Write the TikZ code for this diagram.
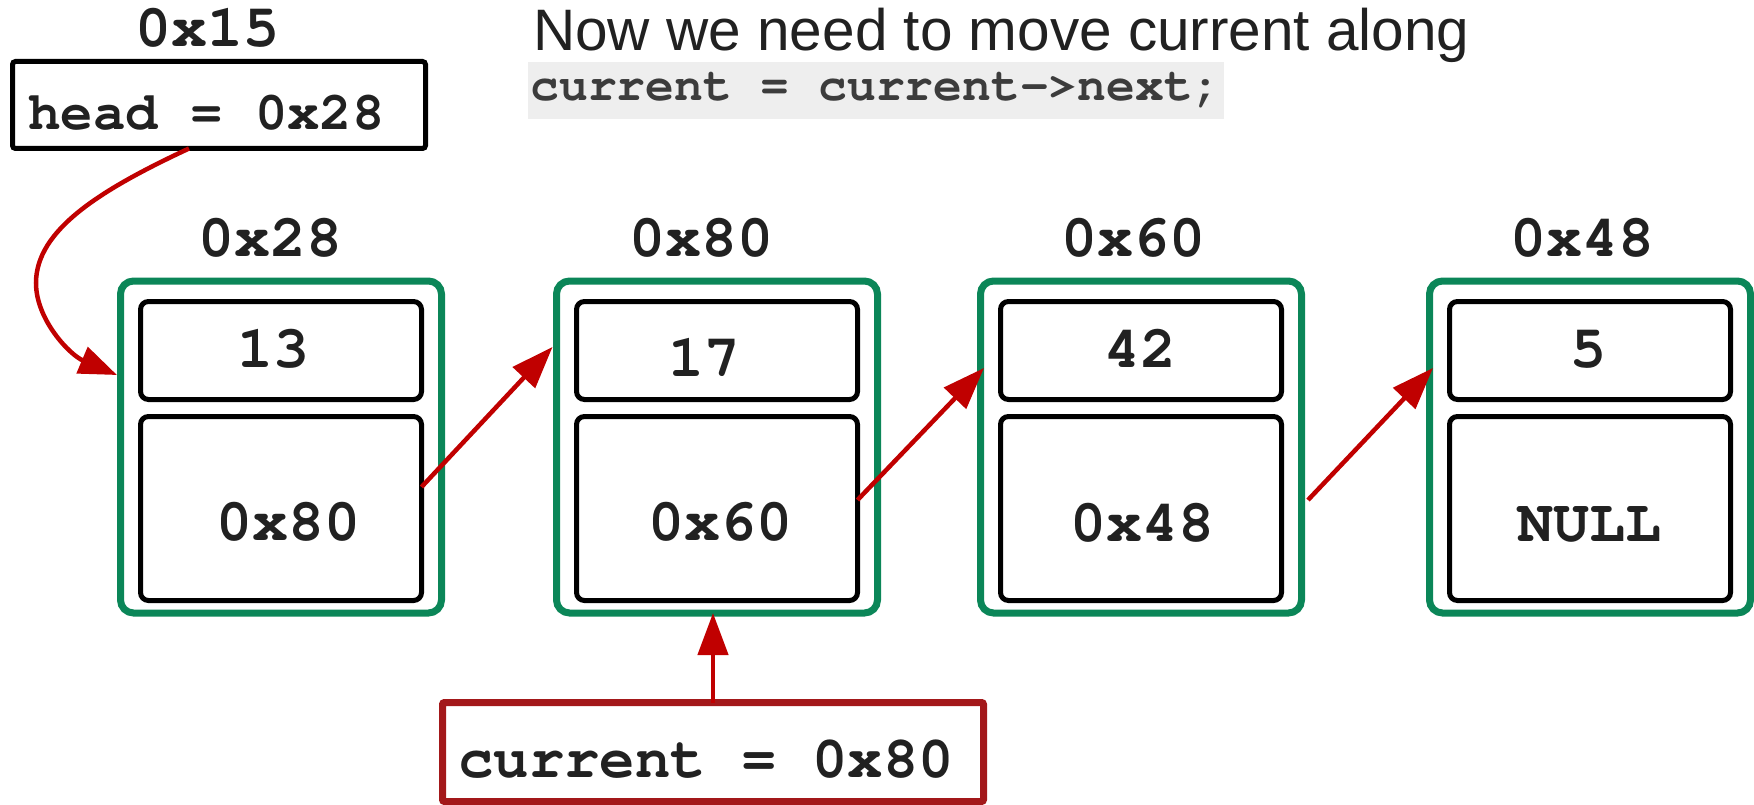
\documentclass[tikz,border=0pt]{standalone}
\usepackage[T1]{fontenc}
\usepackage{fontspec}
\setmainfont{Liberation Sans}
\usetikzlibrary{arrows.meta}
\definecolor{nodegreen}{RGB}{11,134,88}
\definecolor{arrowred}{RGB}{192,0,0}
\definecolor{curred}{RGB}{163,24,26}
\definecolor{inkgray}{RGB}{33,33,33}
\definecolor{codebg}{RGB}{238,238,238}
\definecolor{codeink}{RGB}{60,60,60}
\newcommand\crfont[1]{\fontencoding{T1}\fontfamily{pcr}\fontseries{b}\fontsize{#1}{#1}\selectfont}
\tikzset{
  greenbox/.style={draw=nodegreen, line width=7pt, rounded corners=13pt, minimum width=321pt, minimum height=332pt, inner sep=0pt, outer sep=0pt},
  cell/.style={draw=black, line width=5pt, rounded corners=8pt, minimum width=281pt, inner sep=0pt, outer sep=0pt},
  datacell/.style={cell, minimum height=98pt},
  nextcell/.style={cell, minimum height=184pt},
  val/.style={font=\crfont{60}, text=inkgray, anchor=base, inner sep=0pt},
  link/.style={draw=arrowred, line width=4.5pt, -{Triangle[length=42pt,width=30pt]}},
}
\begin{document}
\begin{tikzpicture}[x=1pt,y=-1pt]
\useasboundingbox (0,0) rectangle (1754,805);
% title and code
\node[font=\fontsize{58.5}{58.5}\selectfont, text=inkgray, anchor=base west, inner sep=0pt] (title) at (533,51) {Now we need to move current along};
\node[fill=codebg, minimum width=696pt, minimum height=57pt, inner sep=0pt, text height=20pt, text depth=0pt, font=\crfont{48}, text=codeink] (code) at (876,90.5) {current = current->next;};
% head
\node[val] (headaddr) at (207,47) {0x15};
\node[draw=black, line width=5pt, rounded corners=3pt, minimum width=413pt, minimum height=87pt, inner sep=0pt, outer sep=0pt] (head) at (219,105) {};
\node[val, anchor=base west, font=\crfont{54}] (headtxt) at (28,130) {head = 0x28};
% nodes
\node[greenbox] (n1) at (281,447) {};
\node[greenbox] (n2) at (717,447) {};
\node[greenbox] (n3) at (1141,447) {};
\node[greenbox] (n4) at (1590,447) {};
\node[datacell] (n1data) at (281,350.5) {};
\node[datacell] (n2data) at (717,350.5) {};
\node[datacell] (n3data) at (1141,350.5) {};
\node[datacell] (n4data) at (1590,350.5) {};
\node[nextcell] (n1next) at (281,508.5) {};
\node[nextcell] (n2next) at (717,508.5) {};
\node[nextcell] (n3next) at (1141,508.5) {};
\node[nextcell] (n4next) at (1590,508.5) {};
% addresses
\node[val] (a1) at (270,257) {0x28};
\node[val] (a2) at (701.5,257) {0x80};
\node[val] (a3) at (1133.5,257) {0x60};
\node[val] (a4) at (1582,257) {0x48};
% values
\node[val] (v1) at (273,367) {13};
\node[val] (v2) at (704.5,376) {17};
\node[val] (v3) at (1140,367) {42};
\node[val] (v4) at (1588,367) {5};
\node[val] (p1) at (288.5,540) {0x80};
\node[val] (p2) at (720,540) {0x60};
\node[val] (p3) at (1142,541) {0x48};
\node[val] (p4) at (1589,541) {NULL};
% current
\node[draw=curred, line width=7pt, rounded corners=2pt, minimum width=541pt, minimum height=99pt, inner sep=0pt, outer sep=0pt] (cur) at (713,752) {};
\node[val, anchor=base west, font=\crfont{59}] (curtxt) at (458,777) {current = 0x80};
% connectors
\draw[link] ([yshift=21.5pt]n1next.east) -- ([xshift=-4pt,yshift=100pt]n2.west);
\draw[link] ([yshift=8.5pt]n2next.east) -- ([xshift=3.5pt,yshift=79pt]n3.west);
\draw[link] ([xshift=6.5pt,yshift=-53pt]n3.east) -- ([xshift=3.5pt,yshift=79pt]n4.west);
\draw[link] (cur.north) -- (cur.north |- n2.south);
\draw[link, -{Triangle[length=38pt,width=28pt]}] ([xshift=-30pt]head.south) .. controls (100,190) and (36,230) .. (36,283) .. controls (36,320) and (70,355) .. ([xshift=-3.5pt,yshift=72pt]n1.west);
\end{tikzpicture}
\end{document}
